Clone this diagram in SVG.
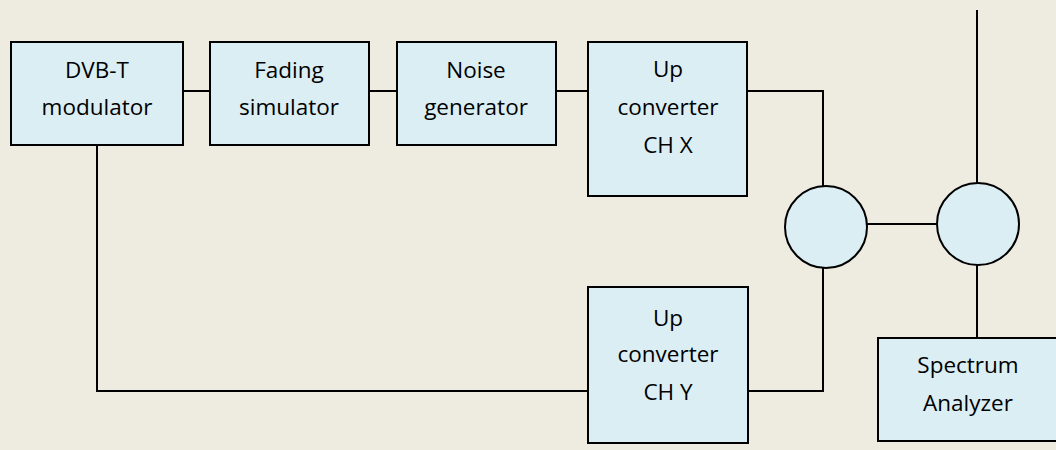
<svg xmlns="http://www.w3.org/2000/svg" width="1056" height="450" viewBox="0 0 1056 450">
  <style>
    .box { fill: #DBEEF4; stroke: #000; stroke-width: 2; }
    .wire { fill: none; stroke: #000; stroke-width: 2; }
    .lbl { font-family: "Open Sans", "Liberation Sans", sans-serif; font-size: 22.5px; fill: #000; text-anchor: middle; }
  </style>
  <rect width="1056" height="450" fill="#EEECE1"/>

  <!-- signal wiring -->
  <g id="connectors">
    <line class="wire" x1="183" y1="91" x2="210" y2="91"/>
    <line class="wire" x1="369" y1="91" x2="397" y2="91"/>
    <line class="wire" x1="556" y1="91" x2="588" y2="91"/>
    <polyline class="wire" points="747,91 823,91 823,187"/>
    <polyline class="wire" points="97,145 97,391 588,391"/>
    <polyline class="wire" points="748,391 823,391 823,268"/>
    <line class="wire" x1="867" y1="224" x2="937" y2="224"/>
    <line class="wire" x1="977" y1="10" x2="977" y2="183"/>
    <line class="wire" x1="977" y1="265" x2="977" y2="338"/>
  </g>

  <g id="dvbt-modulator">
    <rect class="box" x="11" y="42" width="172" height="103"/>
    <text class="lbl" x="97" y="78">DVB-T</text>
    <text class="lbl" x="97" y="115">modulator</text>
  </g>

  <g id="fading-simulator">
    <rect class="box" x="210" y="42" width="159" height="103"/>
    <text class="lbl" x="289" y="78">Fading</text>
    <text class="lbl" x="289" y="115">simulator</text>
  </g>

  <g id="noise-generator">
    <rect class="box" x="397" y="42" width="159" height="103"/>
    <text class="lbl" x="476" y="78">Noise</text>
    <text class="lbl" x="476" y="115">generator</text>
  </g>

  <g id="upconverter-x">
    <rect class="box" x="588" y="42" width="159" height="154"/>
    <text class="lbl" x="668" y="77">Up</text>
    <text class="lbl" x="668" y="115">converter</text>
    <text class="lbl" x="668" y="153">CH X</text>
  </g>

  <g id="upconverter-y">
    <rect class="box" x="588" y="287" width="160" height="156"/>
    <text class="lbl" x="668" y="326">Up</text>
    <text class="lbl" x="668" y="362">converter</text>
    <text class="lbl" x="668" y="400">CH Y</text>
  </g>

  <g id="combiner">
    <circle class="box" cx="826" cy="227" r="41"/>
  </g>

  <g id="coupler">
    <circle class="box" cx="978" cy="224" r="41"/>
  </g>

  <g id="spectrum-analyzer">
    <rect class="box" x="878" y="338" width="180" height="103"/>
    <text class="lbl" x="968" y="373">Spectrum</text>
    <text class="lbl" x="968" y="411">Analyzer</text>
  </g>
</svg>
